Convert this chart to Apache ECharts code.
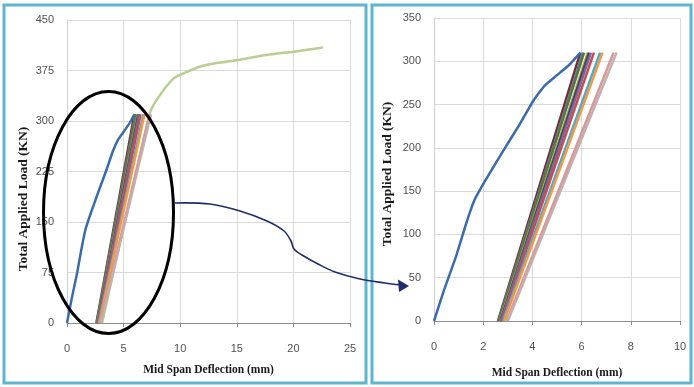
<!DOCTYPE html>
<html>
<head>
<meta charset="utf-8">
<script src="https://cdn.jsdelivr.net/npm/echarts@6/dist/echarts.min.js"></script>
<style>
html,body{margin:0;padding:0;background:#fff;}
#chart{width:694px;height:387px;}
</style>
</head>
<body>
<div id="chart"></div>
<script>
// ---- data ----
const blueX = [0, 0.4, 0.9, 1.3, 1.65, 2.1, 2.8, 3.5, 4.05, 4.5, 5.0, 5.5, 5.95];
const blueY = [0, 35, 75, 112, 140, 163, 196, 228, 255, 272, 284, 296, 310];

// straight specimen lines: deflection at zero load and at peak load
const lineStartX = [2.60, 2.62, 2.64, 2.68, 2.70, 2.72, 2.76, 2.80, 2.85, 2.95, 3.00];
const lineEndX   = [5.95, 6.05, 6.10, 6.25, 6.30, 6.38, 6.50, 6.75, 6.85, 7.30, 7.42];
const peakLoad = 310;

const greenX = [3.1, 7.3, 7.9, 9.4, 10.6, 11.8, 13.2, 15.3, 17.6, 20.0, 22.6];
const greenY = [0, 311, 331, 363, 373, 381, 386, 391, 398, 403, 409];

const leftXAxis = {min: 0, max: 25, interval: 5};
const leftYAxis = {min: 0, max: 450, interval: 75};
const rightXAxis = {min: 0, max: 10, interval: 2};
const rightYAxis = {min: 0, max: 350, interval: 50};

const xTitle = 'Mid Span Deflection (mm)';
const yTitle = 'Total Applied Load (KN)';

// ---- styles ----
const lineColors = ['#772C2A', '#4F81BD', '#5F7530', '#9BBB59', '#4D3B62', '#8064A2',
                    '#C0504D', '#4BACC6', '#F79646', '#D99694', '#BFAFB0'];
const blueColor = '#3B6BAA';
const greenColor = '#B9CE92';

function pairs(xs, ys) { return xs.map((x, i) => [x, ys[i]]); }

const series = [];
[0, 1].forEach(function (g) {
  lineStartX.forEach(function (sx, i) {
    series.push({
      type: 'line', xAxisIndex: g, yAxisIndex: g, showSymbol: false, silent: true,
      data: [[sx, 0], [lineEndX[i], peakLoad]],
      lineStyle: {color: lineColors[i], width: 2.5}, z: 2
    });
  });
  series.push({
    type: 'line', xAxisIndex: g, yAxisIndex: g, showSymbol: false, silent: true,
    smooth: 0.12,
    data: pairs(blueX, blueY), lineStyle: {color: blueColor, width: 2.5, join: 'round'}, z: 3
  });
});
series.push({
  type: 'line', xAxisIndex: 0, yAxisIndex: 0, showSymbol: false, silent: true,
  smooth: 0.2,
  data: pairs(greenX, greenY), lineStyle: {color: greenColor, width: 2.5}, z: 1
});

const labelStyle = {color: '#505050', fontFamily: 'Liberation Sans', fontSize: 11};
const titleFont = {fontFamily: 'Liberation Serif', fontWeight: 'bold', color: '#1a1a1a'};

function xAx(idx, cfg, gap) {
  return Object.assign({
    type: 'value', gridIndex: idx,
    name: xTitle, nameLocation: 'middle', nameGap: gap,
    nameTextStyle: Object.assign({fontSize: 11.5}, titleFont),
    axisLine: {show: true, lineStyle: {color: '#8C8C8C', width: 1}},
    axisTick: {show: true, length: 4, lineStyle: {color: '#8C8C8C'}},
    axisLabel: Object.assign({margin: 20}, labelStyle),
    splitLine: {show: true, lineStyle: {color: '#DADADA', width: 1}}
  }, cfg);
}
function yAx(idx, cfg) {
  return Object.assign({
    type: 'value', gridIndex: idx,
    axisLine: {show: true, lineStyle: {color: '#D0D0D0', width: 1}},
    axisTick: {show: false},
    axisLabel: Object.assign({margin: 13}, labelStyle),
    splitLine: {show: true, lineStyle: {color: '#DADADA', width: 1}}
  }, cfg);
}

const chart = echarts.init(document.getElementById('chart'), null, {renderer: 'canvas'});
chart.setOption({
  animation: false,
  backgroundColor: '#ffffff',
  grid: [
    {left: 67, right: 344, top: 20, bottom: 64},
    {left: 434, right: 14, top: 18, bottom: 66}
  ],
  xAxis: [xAx(0, leftXAxis, 41), xAx(1, rightXAxis, 46)],
  yAxis: [yAx(0, leftYAxis), yAx(1, rightYAxis)],
  series: series,
  graphic: [
    {type: 'rect', shape: {x: 4, y: 5, width: 362, height: 378}, style: {fill: 'none', stroke: '#5CB6CE', lineWidth: 3}, z: 50},
    {type: 'rect', shape: {x: 372, y: 5, width: 319, height: 378}, style: {fill: 'none', stroke: '#5CB6CE', lineWidth: 3}, z: 50},
    {type: 'ellipse', shape: {cx: 108.5, cy: 212.5, rx: 65, ry: 121}, style: {fill: 'none', stroke: '#000', lineWidth: 3}, z: 100},
    {type: 'polyline', shape: {points: [[174, 203], [210, 204], [240, 211], [267, 221], [284, 231], [291, 241], [294, 249], [302, 255], [318, 264], [335, 272], [360, 279], [385, 283], [401, 285]], smooth: 0.35},
     style: {fill: 'none', stroke: '#1F2D6B', lineWidth: 1.6}, z: 100},
    {type: 'polygon', shape: {points: [[409, 286], [398, 279.5], [399, 292]]}, style: {fill: '#1F2D6B'}, z: 100},
    {type: 'text', x: 24, y: 199, rotation: Math.PI / 2,
     style: Object.assign({text: yTitle, fontSize: 13.5, align: 'center', verticalAlign: 'middle', fill: '#1a1a1a'}, {fontFamily: 'Liberation Serif', fontWeight: 'bold'}), z: 60},
    {type: 'text', x: 388, y: 174, rotation: Math.PI / 2,
     style: Object.assign({text: yTitle, fontSize: 13.5, align: 'center', verticalAlign: 'middle', fill: '#1a1a1a'}, {fontFamily: 'Liberation Serif', fontWeight: 'bold'}), z: 60}
  ]
});
</script>
</body>
</html>
